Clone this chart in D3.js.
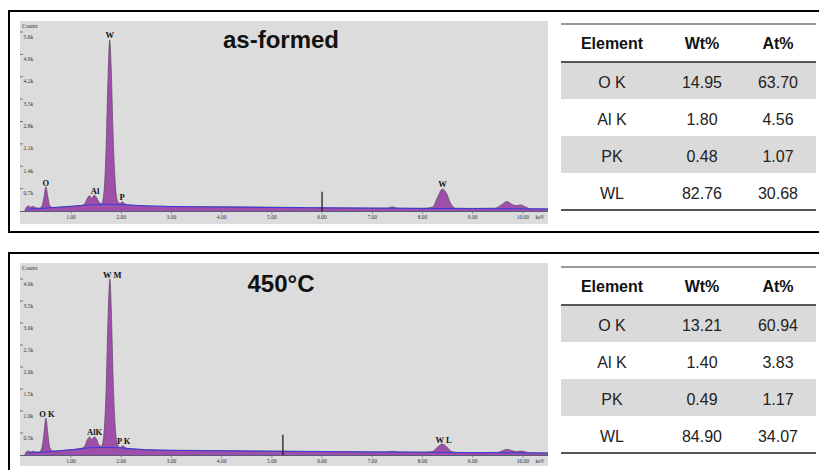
<!DOCTYPE html>
<html lang="en">
<head>
    <meta charset="UTF-8">
    <title>EDS spectra</title>
    <script src="https://d3js.org/d3.v7.min.js"></script>
    <style>
        body { margin: 0; background: #fff; }
        svg { display: block; }
        .tick-lbl { font: 5.5px "Liberation Serif", serif; fill: #333; }
        .peak-lbl { font: bold 8.5px "Liberation Serif", serif; fill: #111; }
        .title { font: bold 24px "Liberation Sans", Arial, sans-serif; fill: #111; }
        .th { font: bold 16px "Liberation Sans", Arial, sans-serif; fill: #111; }
        .td { font: 16px "Liberation Sans", Arial, sans-serif; fill: #222; }
    </style>
</head>
<body>
<svg width="819" height="470"></svg>
<script>
    // energy axis ticks (keV)
    const keVTicks = [1, 2, 3, 4, 5, 6, 7, 8, 9, 10];
    const countTicksA = [700, 1400, 2100, 2800, 3500, 4200, 4900, 5600];
    const countTicksB = [500, 1000, 1500, 2000, 2500, 3000, 3500, 4000];

    // as-formed spectrum [keV, counts]
    const spectrumA = [
        [0.08, 0], [0.10, 90], [0.15, 160], [0.20, 120], [0.25, 150], [0.30, 100], [0.36, 90],
        [0.42, 150], [0.46, 420], [0.50, 750], [0.54, 440], [0.58, 160], [0.65, 110],
        [0.8, 120], [1.0, 140], [1.2, 170], [1.27, 230], [1.33, 410], [1.37, 480],
        [1.41, 400], [1.46, 490], [1.50, 440], [1.56, 270], [1.61, 230], [1.66, 650],
        [1.70, 2000], [1.74, 4300], [1.77, 5350], [1.80, 4500], [1.84, 2300], [1.88, 900],
        [1.93, 300], [1.98, 240], [2.02, 290], [2.07, 230], [2.15, 190], [2.5, 160],
        [3.0, 140], [4.0, 130], [5.0, 120], [5.5, 110], [6.0, 100], [7.0, 90],
        [7.3, 90], [7.4, 130], [7.5, 90], [8.0, 85], [8.2, 120], [8.3, 430], [8.4, 690],
        [8.47, 580], [8.56, 240], [8.66, 90], [9.0, 80], [9.45, 90], [9.58, 200],
        [9.68, 300], [9.78, 210], [9.86, 170], [9.96, 190], [10.05, 130], [10.15, 70],
        [10.5, 60]
    ];
    const backgroundA = [
        [0.15, 50], [0.5, 90], [1.0, 150], [1.5, 200], [1.8, 210], [2.0, 200], [2.5, 160],
        [3.0, 140], [4.0, 125], [5.0, 110], [6.0, 100], [7.0, 90], [8.0, 80], [9.0, 75],
        [10.0, 70], [10.5, 65]
    ];

    // 450°C spectrum [keV, counts]
    const spectrumB = [
        [0.08, 0], [0.10, 60], [0.15, 90], [0.20, 70], [0.25, 90], [0.30, 70], [0.36, 70],
        [0.42, 160], [0.46, 480], [0.50, 840], [0.54, 470], [0.58, 160], [0.65, 90],
        [0.8, 100], [1.0, 120], [1.2, 150], [1.27, 200], [1.33, 360], [1.37, 410],
        [1.41, 350], [1.46, 410], [1.50, 380], [1.56, 220], [1.61, 200], [1.66, 550],
        [1.70, 1500], [1.74, 3200], [1.775, 4000], [1.80, 3400], [1.84, 1700], [1.88, 650],
        [1.93, 230], [1.98, 170], [2.03, 210], [2.08, 170], [2.15, 140], [2.5, 120],
        [3.0, 110], [4.0, 100], [5.0, 90], [6.0, 80], [7.0, 70], [7.3, 70], [7.4, 85],
        [7.5, 70], [8.0, 65], [8.2, 80], [8.3, 180], [8.4, 250], [8.48, 190], [8.58, 80],
        [8.7, 60], [9.0, 55], [9.5, 60], [9.6, 100], [9.68, 130], [9.78, 100], [9.86, 80],
        [9.96, 90], [10.05, 70], [10.15, 50], [10.5, 45]
    ];
    const backgroundB = [
        [0.15, 40], [0.5, 70], [1.0, 120], [1.5, 170], [1.8, 170], [2.0, 160], [2.5, 120],
        [3.0, 105], [4.0, 95], [5.0, 85], [6.0, 78], [7.0, 70], [8.0, 62], [9.0, 55],
        [10.0, 50], [10.5, 45]
    ];

    // peak labels [text, keV, counts]
    const peakLabelsA = [["O", 0.5, 750], ["Al", 1.48, 490], ["P", 2.02, 290], ["W", 1.77, 5350], ["W", 8.4, 690]];
    const peakLabelsB = [["O K", 0.52, 840], ["AlK", 1.47, 410], ["P K", 2.05, 210], ["W M", 1.82, 4000], ["W L", 8.42, 250]];

    // cursor marker positions (keV, counts)
    const markerA = [6.0, 600];
    const markerB = [5.22, 460];

    // quantification tables
    const tableHeader = ["Element", "Wt%", "At%"];
    const elements = ["O K", "Al K", "PK", "WL"];
    const wtA = ["14.95", "1.80", "0.48", "82.76"];
    const atA = ["63.70", "4.56", "1.07", "30.68"];
    const wtB = ["13.21", "1.40", "0.49", "84.90"];
    const atB = ["60.94", "3.83", "1.17", "34.07"];

    const svg = d3.select("svg");

    const x = d3.scaleLinear().domain([0, 10.5]).range([20.8, 548]);

    function panel(cfg) {
        const g = svg.append("g");
        const y = d3.scaleLinear().domain([0, cfg.ymax]).range([cfg.y0, cfg.y1]);

        // outer frame
        g.append("rect")
            .attr("x", 9).attr("y", cfg.top)
            .attr("width", 830).attr("height", cfg.frameH)
            .attr("fill", "none").attr("stroke", "#000").attr("stroke-width", 2);

        // plot background
        g.append("rect")
            .attr("x", 20).attr("y", cfg.top + 10)
            .attr("width", 528).attr("height", 203)
            .attr("fill", "#dcdcdc");

        // y ticks
        g.append("text").attr("class", "tick-lbl")
            .attr("x", 22).attr("y", cfg.top + 17).text("Counts");
        cfg.yTicks.forEach(v => {
            g.append("line")
                .attr("x1", 20).attr("x2", 23)
                .attr("y1", y(v)).attr("y2", y(v))
                .attr("stroke", "#444").attr("stroke-width", 0.7);
            g.append("text").attr("class", "tick-lbl")
                .attr("x", 23.5).attr("y", y(v) + 6.5)
                .text(d3.format(".1f")(v / 1000) + "k");
        });

        // spectrum fill
        const area = d3.area()
            .x(d => x(d[0])).y0(cfg.y0).y1(d => y(d[1]))
            .curve(d3.curveMonotoneX);
        const line = d3.line()
            .x(d => x(d[0])).y(d => y(d[1]))
            .curve(d3.curveMonotoneX);

        g.append("path").datum(cfg.spectrum)
            .attr("d", area).attr("fill", "#9d4fa9");
        g.append("path").datum(cfg.spectrum)
            .attr("d", line).attr("fill", "none")
            .attr("stroke", "#5f4a63").attr("stroke-width", 0.7);
        g.append("path").datum(cfg.background)
            .attr("d", line).attr("fill", "none")
            .attr("stroke", "#3a3ae0").attr("stroke-width", 1);

        // x axis
        g.append("line")
            .attr("x1", 20).attr("x2", 548)
            .attr("y1", cfg.y0 + 0.5).attr("y2", cfg.y0 + 0.5)
            .attr("stroke", "#5a5a7a").attr("stroke-width", 1);
        keVTicks.forEach(v => {
            g.append("line")
                .attr("x1", x(v)).attr("x2", x(v))
                .attr("y1", cfg.y0 + 1).attr("y2", cfg.y0 + 3)
                .attr("stroke", "#666").attr("stroke-width", 0.6);
            g.append("text").attr("class", "tick-lbl")
                .attr("x", x(v)).attr("y", cfg.y0 + 8)
                .attr("text-anchor", "middle")
                .text(d3.format(".2f")(v));
        });
        g.append("text").attr("class", "tick-lbl")
            .attr("x", 540).attr("y", cfg.y0 + 8)
            .attr("text-anchor", "middle").text("keV");

        // cursor marker
        g.append("line")
            .attr("x1", x(cfg.marker[0])).attr("x2", x(cfg.marker[0]))
            .attr("y1", y(cfg.marker[1])).attr("y2", cfg.y0)
            .attr("stroke", "#111").attr("stroke-width", 1.2);

        // peak labels
        cfg.labels.forEach(d => {
            g.append("text").attr("class", "peak-lbl")
                .attr("x", x(d[1])).attr("y", y(d[2]) - 1.5)
                .attr("text-anchor", "middle").text(d[0]);
        });

        // title
        g.append("text").attr("class", "title")
            .attr("x", 281).attr("y", cfg.titleY)
            .attr("text-anchor", "middle").text(cfg.title);

        // table
        const cols = [612, 702, 778];
        const tTop = cfg.tableTop;
        const headH = 38, rowH = 37;
        const rows = elements.map((e, i) => [e, cfg.wt[i], cfg.at[i]]);

        g.selectAll(".rowbg").data(rows).enter().append("rect")
            .attr("x", 561).attr("width", 255)
            .attr("y", (d, i) => tTop + headH + i * rowH)
            .attr("height", rowH)
            .attr("fill", (d, i) => i % 2 === 0 ? "#dadada" : "none");

        [tTop, tTop + headH, tTop + headH + 4 * rowH].forEach((ly, i) => {
            g.append("line")
                .attr("x1", 561).attr("x2", 816)
                .attr("y1", ly).attr("y2", ly)
                .attr("stroke", i === 0 ? "#777" : "#555")
                .attr("stroke-width", i === 0 ? 1.5 : 2);
        });

        tableHeader.forEach((h, j) => {
            g.append("text").attr("class", "th")
                .attr("x", cols[j]).attr("y", tTop + headH / 2 + 6)
                .attr("text-anchor", "middle").text(h);
        });
        rows.forEach((r, i) => {
            r.forEach((c, j) => {
                g.append("text").attr("class", "td")
                    .attr("x", cols[j]).attr("y", tTop + headH + i * rowH + rowH / 2 + 7)
                    .attr("text-anchor", "middle").text(c);
            });
        });
    }

    panel({
        top: 11, frameH: 221, y0: 211, y1: 32, ymax: 5600,
        yTicks: countTicksA, spectrum: spectrumA, background: backgroundA,
        marker: markerA, labels: peakLabelsA, title: "as-formed", titleY: 48,
        tableTop: 24, wt: wtA, at: atA
    });
    panel({
        top: 253, frameH: 240, y0: 455, y1: 279, ymax: 4000,
        yTicks: countTicksB, spectrum: spectrumB, background: backgroundB,
        marker: markerB, labels: peakLabelsB, title: "450°C", titleY: 292,
        tableTop: 267, wt: wtB, at: atB
    });
</script>
</body>
</html>
